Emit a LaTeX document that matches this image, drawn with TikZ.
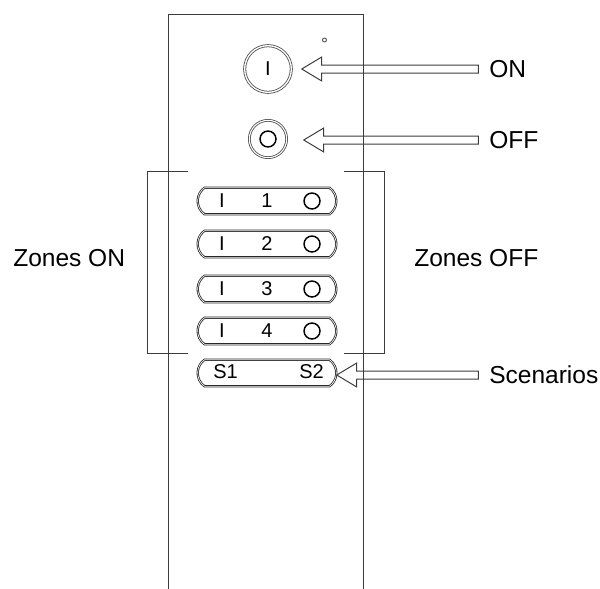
\documentclass[tikz,border=0pt]{standalone}
\usepackage{fontspec}
\setmainfont{Liberation Sans}
\usetikzlibrary{shapes.misc, calc}
\definecolor{bodyline}{RGB}{60, 60, 60}
\tikzset{
  outline/.style={draw=bodyline, line width=0.75pt},
  label/.style={font=\fontsize{18.4}{21}\selectfont, inner sep=0pt, anchor=west},
  keytext/.style={font=\fontsize{15}{17}\selectfont, inner sep=0pt},
  zonekey/.style={draw=black!85, line width=0.6pt, rounded rectangle, rounded rectangle arc length=110,
    minimum width=104pt, minimum height=20pt, inner sep=0pt, double=white, double distance=0.5pt},
  ringo/.style={circle, draw=black, line width=1.1pt, minimum size=12pt, inner sep=0pt},
  hollowarrow/.style={outline, to path={
    let \p1=(\tikztostart), \p2=(\tikztotarget) in
    (\p2) -- ++(15pt,-9pt) -- ++(0,6pt) -- (\x1,\y2-3pt) -- (\x1,\y2+3pt) -- ($(\p2)+(15pt,3pt)$) -- ++(0,6pt) -- cycle}}
}
\begin{document}
\begin{tikzpicture}[x=0.75pt, y=-0.75pt]
    \useasboundingbox (0,0) rectangle (600,589);

    % Round buttons
    \node[circle, draw=black!70, line width=0.6pt, double=white, double distance=1pt, minimum size=35pt, inner sep=0pt] (onbtn) at (268,69) {};
    \node[keytext] (onmark) at (268,69) {I};
    \node[circle, draw=black!70, line width=0.6pt, double=white, double distance=0.8pt, minimum size=28pt, inner sep=0pt] (offbtn) at (268,139) {};
    \node[ringo] (offmark) at (268,139) {};
    \node[circle, draw=bodyline, line width=0.6pt, minimum size=3pt, inner sep=0pt] (led) at (324.5,40) {};

    % Zone keys
    \foreach \n/\y in {1/201, 2/244, 3/289, 4/331} {
        \node[zonekey] (zone\n) at (267,\y) {};
        \node[keytext] (zoneon\n) at (222,\y) {I};
        \node[keytext] (zonenum\n) at (267,\y) {\n};
        \node[ringo] (zoneoff\n) at (312,\y) {};
    }

    % Scenario key
    \node[zonekey] (scene) at (267,373) {};
    \node[keytext] (sone) at (225.5,372) {S1};
    \node[keytext] (stwo) at (311.5,372) {S2};

    % Labels
    \node[label] (onlabel) at (489,69) {ON};
    \node[label] (offlabel) at (489,140) {OFF};
    \node[label] (scenelabel) at (489,375) {Scenarios};
    \node[label] (zoneson) at (13,258) {Zones ON};
    \node[label] (zonesoff) at (414,258) {Zones OFF};

    % Arrows
    \draw[hollowarrow] ([xshift=-8pt]onlabel.west) to ([xshift=7.5pt]onbtn.east);
    \draw[hollowarrow] ([xshift=-8pt]offlabel.west) to ([xshift=12.5pt]offbtn.east |- offlabel);
    \draw[hollowarrow] ([xshift=-8pt]scenelabel.west) to (scene.east |- scenelabel);

    % Remote body
    \draw[outline] (168.5,589) -- (168.5,14.5) -- (363.5,14.5) -- (363.5,589);

    % Brackets
    \draw[outline] (188,171) -- (147,171) -- (147,353) -- (188,353);
    \draw[outline] (344,171) -- (384,171) -- (384,353) -- (344,353);
\end{tikzpicture}
\end{document}
